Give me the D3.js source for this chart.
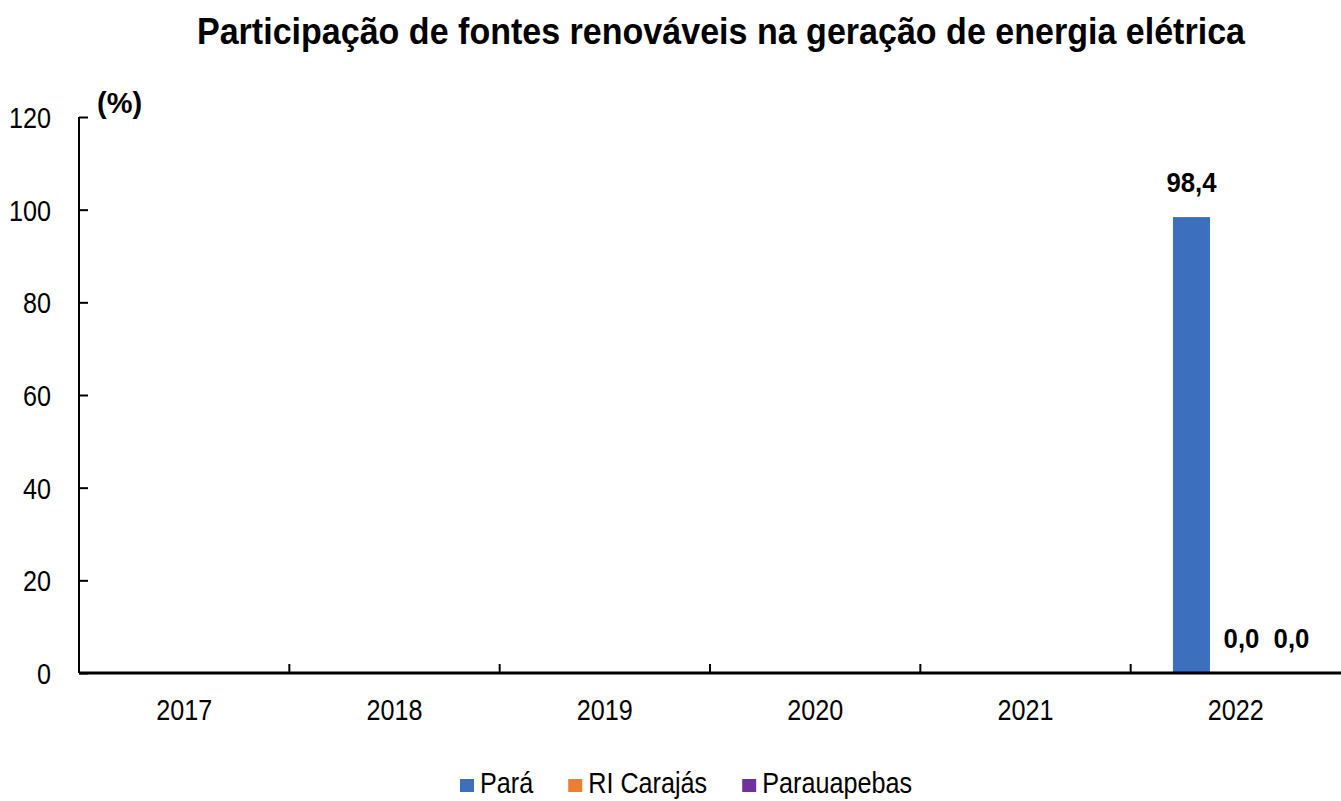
<!DOCTYPE html>
<html>
<head>
<meta charset="utf-8">
<script src="https://cdn.jsdelivr.net/npm/d3@7"></script>
<style>
  body { margin: 0; background: #fff; }
  text { font-family: "Liberation Sans", Arial, sans-serif; fill: #000; }
</style>
</head>
<body>
<div id="chart"></div>
<script>
var years = ["2017", "2018", "2019", "2020", "2021", "2022"];
var seriesNames = ["Pará", "RI Carajás", "Parauapebas"];
var para = [null, null, null, null, null, 98.4];
var riCarajas = [null, null, null, null, null, 0.0];
var parauapebas = [null, null, null, null, null, 0.0];
var yTicks = [0, 20, 40, 60, 80, 100, 120];
var colors = ["#3d6fbf", "#ed7d31", "#7030a0"];

var width = 1341,
    height = 801;

var margin = {left: 79, right: 0, top: 117, bottom: 128};

// squeeze factors to imitate Arial Narrow
var narrow = 0.84,
    narrowBold = 0.92;

var svg = d3.select("#chart").append("svg")
    .attr("width", width)
    .attr("height", height)

var x = d3.scaleBand()
    .domain(years)
    .range([margin.left, width - margin.right]);

var x1 = d3.scaleBand()
    .domain(seriesNames)
    .range([0, x.bandwidth()])
    .paddingInner(0.26)
    .paddingOuter(0.733)
    .align(0.577);

var y = d3.scaleLinear()
    .domain([0, 120])
    .range([height - margin.bottom, margin.top]);

var fmt = function (v) { return d3.format(".1f")(v).replace(".", ","); };

function place(px, py, s) {
    return "translate(" + px + "," + py + ") scale(" + s + ",1)";
}

// title
svg.append("text")
    .attr("transform", place(721, 44, narrowBold))
    .attr("text-anchor", "middle")
    .attr("font-weight", "bold")
    .attr("font-size", 37)
    .text("Participação de fontes renováveis na geração de energia elétrica");

// y axis
var yAxis = svg.append("g")
    .attr("transform", "translate(" + margin.left + ",0)")
    .call(d3.axisRight(y).tickValues(yTicks).tickSize(9).tickFormat(d3.format("d")));
yAxis.select(".domain").attr("stroke", "#000").attr("stroke-width", 2)
    .attr("d", "M0," + y(120) + "V" + y(0));
yAxis.selectAll(".tick line").attr("stroke", "#000").attr("stroke-width", 2);
yAxis.selectAll(".tick text")
    .attr("x", 0)
    .attr("transform", place(-28, 0, narrow))
    .attr("text-anchor", "end")
    .attr("dy", "0.35em")
    .attr("font-size", 30);

svg.append("text")
    .attr("transform", place(97, 113, 1))
    .attr("font-weight", "bold")
    .attr("font-size", 29)
    .text("(%)");

// bars
var rows = years.map(function (yr, i) {
    return {year: yr, values: [para[i], riCarajas[i], parauapebas[i]]};
});

var groups = svg.selectAll(".grp")
    .data(rows)
    .enter().append("g")
    .attr("class", "grp")
    .attr("transform", function (d) { return "translate(" + x(d.year) + ",0)"; });

var cells = groups.selectAll(".cell")
    .data(function (d) {
        return d.values.map(function (v, k) { return {name: seriesNames[k], k: k, value: v}; })
            .filter(function (o) { return o.value !== null; });
    })
    .enter().append("g")
    .attr("class", "cell");

cells.append("rect")
    .attr("x", function (d) { return x1(d.name); })
    .attr("width", x1.bandwidth())
    .attr("y", function (d) { return y(d.value); })
    .attr("height", function (d) { return y(0) - y(d.value); })
    .attr("fill", function (d) { return colors[d.k]; });

cells.append("text")
    .attr("transform", function (d) {
        return place(x1(d.name) + x1.bandwidth() / 2, y(d.value) - 25, narrowBold);
    })
    .attr("text-anchor", "middle")
    .attr("font-weight", "bold")
    .attr("font-size", 28)
    .text(function (d) { return fmt(d.value); });

// x axis
var xAxis = svg.append("g")
    .attr("transform", "translate(0," + y(0) + ")");
xAxis.append("line")
    .attr("x1", margin.left).attr("x2", width)
    .attr("stroke", "#000").attr("stroke-width", 3);
xAxis.selectAll(".sep")
    .data(years.slice(1))
    .enter().append("line")
    .attr("class", "sep")
    .attr("x1", function (d) { return x(d); })
    .attr("x2", function (d) { return x(d); })
    .attr("y1", 0).attr("y2", -9)
    .attr("stroke", "#000").attr("stroke-width", 2);
xAxis.selectAll(".lbl")
    .data(years)
    .enter().append("text")
    .attr("class", "lbl")
    .attr("transform", function (d) { return place(x(d) + x.bandwidth() / 2, 47, narrow); })
    .attr("text-anchor", "middle")
    .attr("font-size", 30)
    .text(function (d) { return d; });

// legend, laid out left to right from measured text widths
var legend = svg.selectAll(".leg")
    .data(seriesNames)
    .enter().append("g")
    .attr("class", "leg");
legend.append("rect")
    .attr("y", -14)
    .attr("width", 14).attr("height", 13)
    .attr("fill", function (d, i) { return colors[i]; });
legend.append("text")
    .attr("transform", place(20, 0, narrow))
    .attr("font-size", 30)
    .text(function (d) { return d; });

var lx = 460;
legend.each(function () {
    var g = d3.select(this);
    g.attr("transform", "translate(" + lx + ",793)");
    lx += 20 + g.select("text").node().getComputedTextLength() * narrow + 35;
});
</script>
</body>
</html>
